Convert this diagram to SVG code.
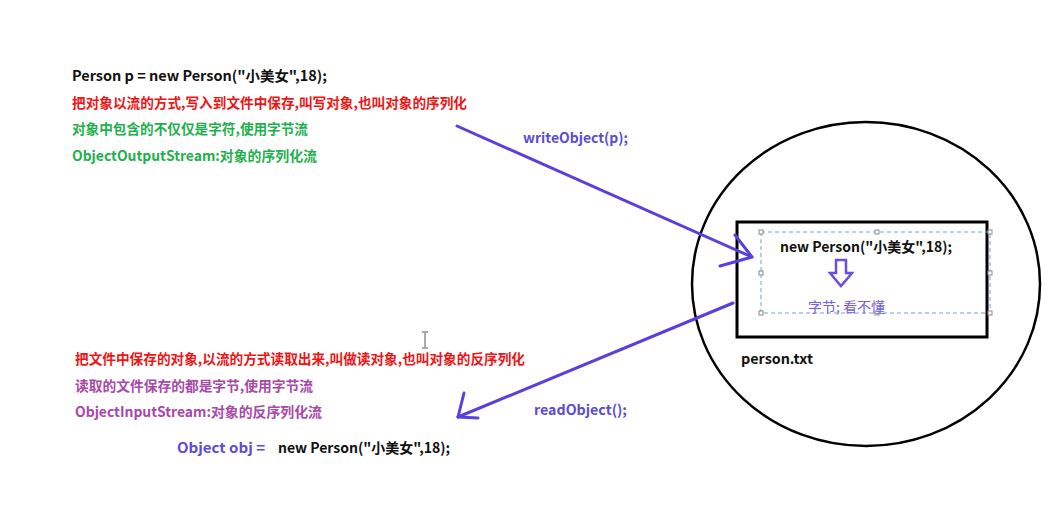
<svg xmlns="http://www.w3.org/2000/svg" width="1061" height="518" viewBox="0 0 1061 518">
<style>
text{font-family:"Noto Sans CJK SC","Liberation Sans",sans-serif;font-weight:bold;font-size:14px}
.k{fill:#111}
.r{fill:#f01414}
.g{fill:#1fb04c}
.p{fill:#a848a8}
.b{fill:#5a4cd6}
.conn{stroke:#5a3ee0;stroke-width:3;fill:none;stroke-linecap:round;stroke-linejoin:round}
.h{fill:#fff;stroke:#888;stroke-width:1}
</style>
<rect width="1061" height="518" fill="#fff"/>
<g id="write-notes">
<text class="k" x="72" y="81" textLength="255" lengthAdjust="spacingAndGlyphs">Person p = new Person("小美女",18);</text>
<text class="r" x="72" y="108" textLength="395" lengthAdjust="spacingAndGlyphs">把对象以流的方式,写入到文件中保存,叫写对象,也叫对象的序列化</text>
<text class="g" x="72" y="134" textLength="236" lengthAdjust="spacingAndGlyphs">对象中包含的不仅仅是字符,使用字节流</text>
<text class="g" x="72" y="161" textLength="245" lengthAdjust="spacingAndGlyphs">ObjectOutputStream:对象的序列化流</text>
</g>
<g id="read-notes">
<text class="r" x="75" y="364" textLength="450" lengthAdjust="spacingAndGlyphs">把文件中保存的对象,以流的方式读取出来,叫做读对象,也叫对象的反序列化</text>
<text class="p" x="75" y="391" textLength="238" lengthAdjust="spacingAndGlyphs">读取的文件保存的都是字节,使用字节流</text>
<text class="p" x="75" y="417" textLength="247" lengthAdjust="spacingAndGlyphs">ObjectInputStream:对象的反序列化流</text>
<text class="b" x="177" y="453" textLength="88" lengthAdjust="spacingAndGlyphs">Object obj =</text>
<text class="k" x="278" y="453" textLength="172" lengthAdjust="spacingAndGlyphs">new Person("小美女",18);</text>
</g>
<g id="file">
<ellipse cx="866" cy="284" rx="174" ry="162" fill="none" stroke="#000" stroke-width="2.5"/>
<rect x="737" y="222" width="250" height="115" fill="#fff" stroke="#000" stroke-width="3"/>
<rect x="761" y="232" width="229" height="81" fill="none" stroke="#6fa3dc" stroke-width="1" stroke-dasharray="4,3"/>
<g>
<rect class="h" x="759" y="230" width="4" height="4"/><rect class="h" x="875" y="230" width="4" height="4"/><rect class="h" x="988" y="230" width="4" height="4"/>
<rect class="h" x="759" y="271" width="4" height="4"/><rect class="h" x="988" y="271" width="4" height="4"/>
<rect class="h" x="759" y="311" width="4" height="4"/><rect class="h" x="875" y="311" width="4" height="4"/><rect class="h" x="988" y="311" width="4" height="4"/>
</g>
<text class="k" x="780" y="252" textLength="172" lengthAdjust="spacingAndGlyphs">new Person("小美女",18);</text>
<path d="M836,260 H846 V273 H852 L841,286 L830,273 H836 Z" fill="none" stroke="#6a4ee0" stroke-width="2.5" stroke-linejoin="miter"/>
<text x="808" y="312" fill="#7060e0" style="font-weight:normal" textLength="77" lengthAdjust="spacingAndGlyphs">字节; 看不懂</text>
<text class="k" x="741" y="364" textLength="72" lengthAdjust="spacingAndGlyphs">person.txt</text>
</g>
<g id="connectors">
<path class="conn" d="M457,126 L752,257"/>
<path class="conn" d="M735,235 L752,257 L720,266"/>
<path class="conn" d="M733,303 L458,417"/>
<path class="conn" d="M464,393 L458,417 L478,418"/>
<text class="b" x="523" y="143" textLength="105" lengthAdjust="spacingAndGlyphs">writeObject(p);</text>
<text class="b" x="534" y="415" textLength="93" lengthAdjust="spacingAndGlyphs">readObject();</text>
</g>
<g id="cursor" stroke="#555" stroke-width="1" fill="none">
<path d="M425,333 V347 M422,332 H428 M422,348 H428"/>
</g>
</svg>
